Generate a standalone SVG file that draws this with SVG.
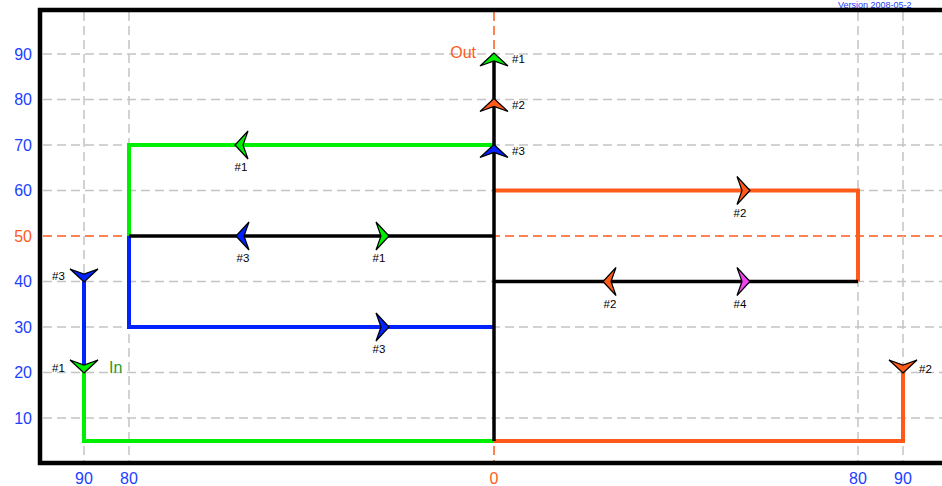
<svg xmlns="http://www.w3.org/2000/svg" xmlns:xlink="http://www.w3.org/1999/xlink" width="942" height="486" viewBox="0 0 942 486">
<style>
.grid{stroke:#c4c4c4;stroke-width:1.5;stroke-dasharray:9 5;fill:none}
.gridr{stroke:#ff5a1a;stroke-width:1.5;stroke-dasharray:9 5;fill:none}
.frame{stroke:#000;stroke-width:4.5;fill:none}
.ax{font-family:"Liberation Sans",Arial,sans-serif;font-size:16px;fill:#2040ff}
.axr{fill:#ff5a1a}
.lbl{font-family:"Liberation Sans",Arial,sans-serif;font-size:11.5px;fill:#000}
.ln{fill:none;stroke-width:4;stroke-linejoin:miter}
.g{stroke:#00ee00}.b{stroke:#0022ff}.o{stroke:#ff5a1a}.k{stroke:#000;stroke-width:3.5}
.arr{stroke:#000;stroke-width:1.2;stroke-linejoin:miter}
</style>
<defs>
<path id="ar" d="M0,0 L-13,-14 L-8,0 L-13,14 Z"/>
</defs>
<text x="838" y="7.5" style="font-family:'Liberation Sans',Arial,sans-serif;font-size:9px;fill:#2040ff">Version 2008-05-2</text>
<g id="grid">
<line class="grid" x1="43" y1="54" x2="942" y2="54"/>
<line class="grid" x1="43" y1="99.5" x2="942" y2="99.5"/>
<line class="grid" x1="43" y1="145" x2="942" y2="145"/>
<line class="grid" x1="43" y1="190.5" x2="942" y2="190.5"/>
<line class="gridr" x1="43" y1="236" x2="942" y2="236"/>
<line class="grid" x1="43" y1="281.5" x2="942" y2="281.5"/>
<line class="grid" x1="43" y1="327" x2="942" y2="327"/>
<line class="grid" x1="43" y1="372.5" x2="942" y2="372.5"/>
<line class="grid" x1="43" y1="418" x2="942" y2="418"/>
<line class="grid" x1="84" y1="12" x2="84" y2="461"/>
<line class="grid" x1="129" y1="12" x2="129" y2="461"/>
<line class="grid" x1="858" y1="12" x2="858" y2="461"/>
<line class="grid" x1="903" y1="12" x2="903" y2="461"/>
<line class="gridr" x1="494" y1="12" x2="494" y2="461"/>
</g>
<g id="frame">
<path class="frame" d="M942,10 H40 V463 H942"/>
</g>
<g id="axis-labels">
<text class="ax" x="32" y="59.5" text-anchor="end">90</text>
<text class="ax" x="32" y="105" text-anchor="end">80</text>
<text class="ax" x="32" y="150.5" text-anchor="end">70</text>
<text class="ax" x="32" y="196" text-anchor="end">60</text>
<text class="ax axr" x="32" y="241.5" text-anchor="end">50</text>
<text class="ax" x="32" y="287" text-anchor="end">40</text>
<text class="ax" x="32" y="332.5" text-anchor="end">30</text>
<text class="ax" x="32" y="378" text-anchor="end">20</text>
<text class="ax" x="32" y="423.5" text-anchor="end">10</text>
<text class="ax" x="84" y="484" text-anchor="middle">90</text>
<text class="ax" x="129" y="484" text-anchor="middle">80</text>
<text class="ax axr" x="494" y="484" text-anchor="middle">0</text>
<text class="ax" x="858" y="484" text-anchor="middle">80</text>
<text class="ax" x="903" y="484" text-anchor="middle">90</text>
</g>
<g id="connectors">
<path class="ln g" d="M84,372 V441 H494"/>
<path class="ln o" d="M494,441 H903 V372"/>
<path class="ln b" d="M84,372 V281"/>
<path class="ln g" d="M494,145 H129 V236"/>
<path class="ln b" d="M129,236 V327 H494"/>
<path class="ln o" d="M494,190.5 H858 V281.5"/>
<path class="ln k" d="M129,236 H494"/>
<path class="ln k" d="M494,281.5 H858"/>
<path class="ln k" d="M494,441 V56"/>
</g>
<g id="node-out">
<text x="476" y="58" text-anchor="end" style="font-family:'Liberation Sans',Arial,sans-serif;font-size:16px;fill:#ff5a1a">Out</text>
<use xlink:href="#ar" class="arr" fill="#00ee00" transform="translate(494,53) rotate(-90)"/>
<text class="lbl" x="512" y="63">#1</text>
<use xlink:href="#ar" class="arr" fill="#ff5a1a" transform="translate(494,98.5) rotate(-90)"/>
<text class="lbl" x="512" y="109">#2</text>
<use xlink:href="#ar" class="arr" fill="#0022ff" transform="translate(494,144.5) rotate(-90)"/>
<text class="lbl" x="512" y="155">#3</text>
</g>
<g id="node-in">
<use xlink:href="#ar" class="arr" fill="#0022ff" transform="translate(84,282) rotate(90)"/>
<text class="lbl" x="52" y="280">#3</text>
<use xlink:href="#ar" class="arr" fill="#00ee00" transform="translate(84,373) rotate(90)"/>
<text class="lbl" x="52" y="372">#1</text>
<text x="109" y="373" style="font-family:'Liberation Sans',Arial,sans-serif;font-size:16px;fill:#1f9a1f">In</text>
</g>
<g id="node-right">
<use xlink:href="#ar" class="arr" fill="#ff5a1a" transform="translate(903,373) rotate(90)"/>
<text class="lbl" x="919" y="373">#2</text>
</g>
<g id="markers-left">
<use xlink:href="#ar" class="arr" fill="#00ee00" transform="translate(235,145) rotate(180)"/>
<text class="lbl" x="241" y="171" text-anchor="middle">#1</text>
<use xlink:href="#ar" class="arr" fill="#0022ff" transform="translate(236,236) rotate(180)"/>
<text class="lbl" x="243" y="262" text-anchor="middle">#3</text>
<use xlink:href="#ar" class="arr" fill="#00ee00" transform="translate(389,236)"/>
<text class="lbl" x="379" y="262" text-anchor="middle">#1</text>
<use xlink:href="#ar" class="arr" fill="#0022ff" transform="translate(389,327)"/>
<text class="lbl" x="379" y="353" text-anchor="middle">#3</text>
</g>
<g id="markers-right">
<use xlink:href="#ar" class="arr" fill="#ff5a1a" transform="translate(750,190.5)"/>
<text class="lbl" x="740" y="217" text-anchor="middle">#2</text>
<use xlink:href="#ar" class="arr" fill="#ff5a1a" transform="translate(603,281.5) rotate(180)"/>
<text class="lbl" x="610" y="308" text-anchor="middle">#2</text>
<use xlink:href="#ar" class="arr" fill="#ee44ee" transform="translate(750,281.5)"/>
<text class="lbl" x="740" y="308" text-anchor="middle">#4</text>
</g>
</svg>
